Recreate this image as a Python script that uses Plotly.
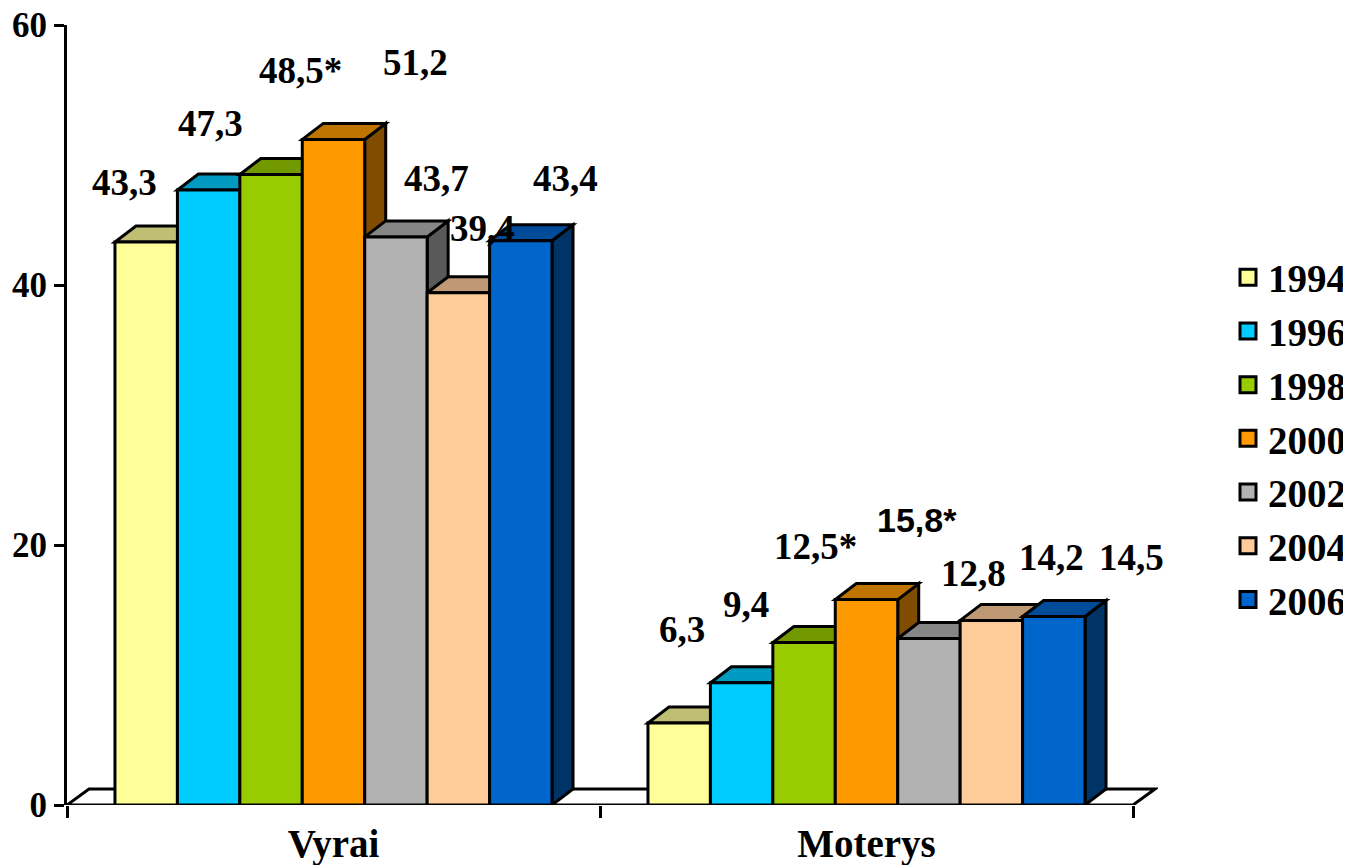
import plotly.graph_objects as go

# ---------------- data ----------------
categories = ["Vyrai", "Moterys"]
years = ["1994", "1996", "1998", "2000", "2002", "2004", "2006"]
vyrai = [43.3, 47.3, 48.5, 51.2, 43.7, 39.4, 43.4]
moterys = [6.3, 9.4, 12.5, 15.8, 12.8, 14.2, 14.5]
vyrai_star = [False, False, True, False, False, False, False]
moterys_star = [False, False, True, True, False, False, False]
y_ticks = [0, 20, 40, 60]

# ---------------- style ----------------
colors = ["#FFFF99", "#00CCFF", "#99CC00", "#FF9900", "#B2B2B2", "#FFCC99", "#0066CC"]
PAGE_PAD = 8  # default body margin of the page
W, H = 1351 - PAGE_PAD, 865 - PAGE_PAD
ML, MR, MT, MB = 67 - PAGE_PAD, 193, 25 - PAGE_PAD, 60
SERIF = "Liberation Serif"
SANS = "Liberation Sans"

# label offsets in pixels (x shift, y shift above bar top)
lab_dx = [[-22, 2, 29, 82, 41, 24, 45], [3, 4, 11, 50, 45, 60, 78]]
lab_dy = [[60, 67, 104, 77, 58, 64, 62], [94, 78, 96, 80, 65, 63, 59]]
sans_label = [[False] * 7, [False, False, False, True, False, False, False]]

bargap = 0.18
n = len(years)
w = (1 - bargap) / n
x_extra_px = 25
plot_w = W - ML - MR
px_per_x = (plot_w - x_extra_px) / 2.0
x_range = [-0.5, 1.5 + x_extra_px / px_per_x]
y_range = [0, 60]
px_per_y = (H - MT - MB) / (y_range[1] - y_range[0])
DX = 21 / px_per_x
DY = 16 / px_per_y
FDX = 22 / px_per_x
FDY = 16 / px_per_y


def shade(hexc, f):
    hexc = hexc.lstrip("#")
    r, g, b = (int(hexc[i:i + 2], 16) for i in (0, 2, 4))
    return "rgb(%d,%d,%d)" % (round(r * f), round(g * f), round(b * f))


series = [vyrai, moterys]
stars = [vyrai_star, moterys_star]
cat_x = list(range(len(categories)))

fig = go.Figure()
for i, yr in enumerate(years):
    fig.add_trace(go.Bar(
        x=cat_x, y=[s[i] for s in series], name=yr,
        width=w, offset=-(1 - bargap) / 2 + i * w,
        marker=dict(color=colors[i], line=dict(color="black", width=3)),
        showlegend=False, hoverinfo="skip",
    ))
# legend proxies
for i, yr in enumerate(years):
    fig.add_trace(go.Scatter(
        x=[None], y=[None], mode="markers", name=yr,
        marker=dict(symbol="square", size=16, color=colors[i],
                    line=dict(color="black", width=3)),
    ))

shapes = []
# floor
shapes.append(dict(
    type="path", layer="below", xref="x", yref="y",
    path="M %f,0 L %f,0 L %f,%f L %f,%f Z" % (-0.5, 1.5, 1.5 + FDX, FDY, -0.5 + FDX, FDY),
    fillcolor="white", line=dict(color="black", width=3)))
for c, vals in zip(cat_x, series):
    for i, v in enumerate(vals):
        xl = c - (1 - bargap) / 2 + i * w
        xr = xl + w
        shapes.append(dict(
            type="path", layer="below", xref="x", yref="y",
            path="M %f,0 L %f,%f L %f,%f L %f,%f Z" % (xr, xr, v, xr + DX, v + DY, xr + DX, DY),
            fillcolor=shade(colors[i], 0.5), line=dict(color="black", width=3)))
        shapes.append(dict(
            type="path", layer="below", xref="x", yref="y",
            path="M %f,%f L %f,%f L %f,%f L %f,%f Z" % (xl, v, xr, v, xr + DX, v + DY, xl + DX, v + DY),
            fillcolor=shade(colors[i], 0.75), line=dict(color="black", width=3)))

annotations = []
for ci, (c, vals) in enumerate(zip(cat_x, series)):
    for i, v in enumerate(vals):
        xc = c - (1 - bargap) / 2 + (i + 0.5) * w
        txt = ("%.1f" % v).replace(".", ",") + ("*" if stars[ci][i] else "")
        fam = SANS if sans_label[ci][i] else SERIF
        size = 34 if sans_label[ci][i] else 37
        annotations.append(dict(
            x=xc, y=v, xref="x", yref="y", text=txt, showarrow=False,
            xanchor="center", yanchor="middle",
            xshift=lab_dx[ci][i], yshift=lab_dy[ci][i],
            font=dict(family=fam, size=size, color="black", weight="bold")))

legend_left_px = 1228 - PAGE_PAD
fig.update_layout(
    width=W, height=H,
    margin=dict(l=ML, r=MR, t=MT, b=MB, pad=0, autoexpand=False),
    paper_bgcolor="white", plot_bgcolor="white",
    barmode="overlay",
    shapes=shapes, annotations=annotations,
    showlegend=True,
    legend=dict(x=(legend_left_px - ML) / plot_w, xanchor="left", y=0.47, yanchor="middle",
                font=dict(family=SERIF, size=39, color="black", weight="bold"),
                bgcolor="rgba(0,0,0,0)", borderwidth=0, itemwidth=30),
    xaxis=dict(range=x_range, tickmode="array", tickvals=cat_x, ticktext=categories,
               ticks="", showline=False, showgrid=False, zeroline=False,
               automargin=False, ticklabelstandoff=12, ticklabeloverflow="allow",
               tickfont=dict(family=SERIF, size=39, color="black", weight="bold"),
               minor=dict(tickmode="array", tickvals=[-0.5, 0.5, 1.5], ticks="outside",
                          ticklen=12, tickwidth=3, tickcolor="black", showgrid=False)),
    yaxis=dict(range=y_range, tickmode="array", tickvals=y_ticks,
               ticks="outside", ticklen=10, tickwidth=3, tickcolor="black",
               showline=True, linewidth=3, linecolor="black",
               showgrid=False, zeroline=False, automargin=False,
               ticklabeloverflow="allow",
               tickfont=dict(family=SERIF, size=35, color="black", weight="bold")),
)

fig.write_html("out.html")
